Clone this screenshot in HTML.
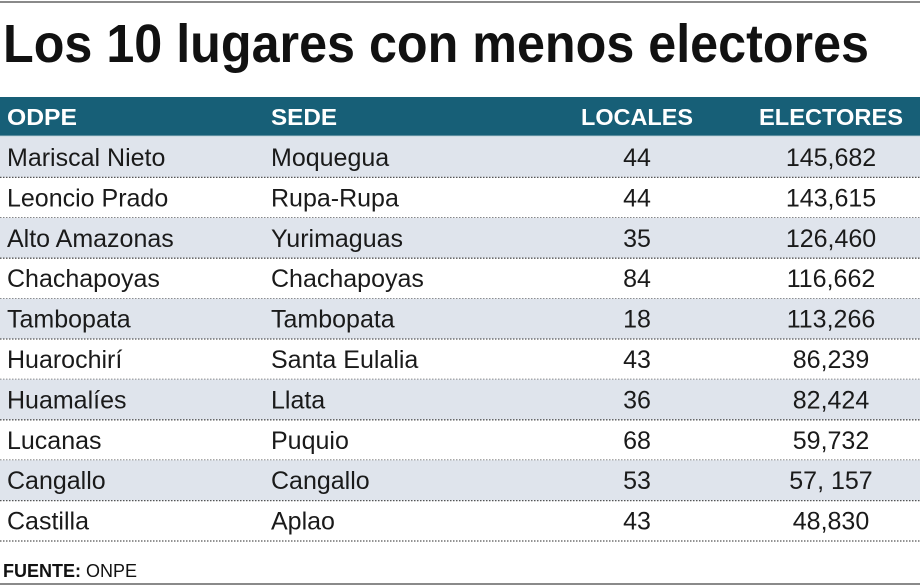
<!DOCTYPE html>
<html><head><meta charset="utf-8"><style>
html,body{margin:0;padding:0;background:#fff;}
svg{display:block;font-family:"Liberation Sans",sans-serif;}
</style></head><body>
<svg id="tbl" width="920" height="587" viewBox="0 0 920 587" xmlns="http://www.w3.org/2000/svg">
<rect x="0" y="0" width="920" height="587" fill="#fff"/>
<line x1="0" y1="2" x2="920" y2="2" stroke="#8a8a8a" stroke-width="2"/>
<text x="3" y="62" font-size="54" font-weight="bold" fill="#111" textLength="866" lengthAdjust="spacingAndGlyphs">Los 10 lugares con menos electores</text>
<rect x="0" y="97" width="920" height="39" fill="#175f77"/>
<line x1="0" y1="136" x2="920" y2="136" stroke="#9fb8c4" stroke-width="1"/>
<text x="7" y="125" font-size="23" font-weight="bold" fill="#fff" textLength="70" lengthAdjust="spacingAndGlyphs">ODPE</text>
<text x="271" y="125" font-size="23" font-weight="bold" fill="#fff" textLength="66" lengthAdjust="spacingAndGlyphs">SEDE</text>
<text x="581" y="125" font-size="23" font-weight="bold" fill="#fff" textLength="112" lengthAdjust="spacingAndGlyphs">LOCALES</text>
<text x="759" y="125" font-size="23" font-weight="bold" fill="#fff" textLength="144" lengthAdjust="spacingAndGlyphs">ELECTORES</text>
<g id="rows"></g>
<line x1="0" y1="584" x2="920" y2="584" stroke="#8a8a8a" stroke-width="2"/>
<text x="3" y="577" font-size="18" fill="#111"><tspan font-weight="bold">FUENTE:</tspan> ONPE</text>
</svg>
<script>
const odpe = ["Mariscal Nieto","Leoncio Prado","Alto Amazonas","Chachapoyas","Tambopata","Huarochirí","Huamalíes","Lucanas","Cangallo","Castilla"];
const sede = ["Moquegua","Rupa-Rupa","Yurimaguas","Chachapoyas","Tambopata","Santa Eulalia","Llata","Puquio","Cangallo","Aplao"];
const locales = [44,44,35,84,18,43,36,68,53,43];
const electores = ["145,682","143,615","126,460","116,662","113,266","86,239","82,424","59,732","57, 157","48,830"];
const NS="http://www.w3.org/2000/svg";
const g=document.getElementById('rows');
const top0=137, rh=40.4;
function t(x,y,s,anchor,name){const e=document.createElementNS(NS,'text');e.setAttribute('x',x);e.setAttribute('y',y);e.setAttribute('font-size','25');e.setAttribute('fill','#1a1a1a');e.setAttribute('text-anchor',anchor);e.textContent=s;


g.appendChild(e);return e;}
odpe.forEach((o,i)=>{
  const y=top0+i*rh;
  if(i%2===0){const r=document.createElementNS(NS,'rect');r.setAttribute('x',0);r.setAttribute('y',y);r.setAttribute('width',920);r.setAttribute('height',rh);r.setAttribute('fill','#dfe4ec');
  
  
  g.appendChild(r);}
  const l=document.createElementNS(NS,'line');l.setAttribute('x1',0);l.setAttribute('x2',920);l.setAttribute('y1',y+rh);l.setAttribute('y2',y+rh);l.setAttribute('stroke','#555');l.setAttribute('stroke-width','1.3');l.setAttribute('stroke-dasharray','1.5 1.5');
  
  
  g.appendChild(l);
  const by=y+29;
  t(7,by,o,'start','odpe-cell');
  t(271,by,sede[i],'start','sede-cell');
  t(637,by,String(locales[i]),'middle','locales-cell');
  t(831,by,electores[i],'middle','electores-cell');
});
</script>
</body></html>
